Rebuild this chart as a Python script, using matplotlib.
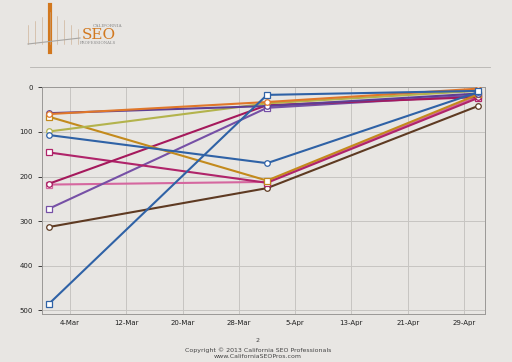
import datetime
import numpy as np
import matplotlib
matplotlib.use("Agg")
import matplotlib.pyplot as plt
import matplotlib.dates as mdates

# ranking snapshots
dates = [datetime.date(2013, 3, 1), datetime.date(2013, 4, 1), datetime.date(2013, 5, 1)]

blue_sq = [485, 17, 8]
blue_ci = [107, 170, 11]
gold = [66, 209, 16]
orange = [60, 33, 3]
dark_purple = [58, 42, 14]
olive = [99, 36, 8]
magenta_sq = [146, 214, 24]
crimson_ci = [216, 40, 22]
pink = [218, 212, 20]
lavender_sq = [272, 46, 18]
brown = [313, 226, 42]

tick_dates = [datetime.date(2013, 3, 4) + datetime.timedelta(days=8 * i) for i in range(8)]
y_ticks = [0, 100, 200, 300, 400, 500]

bg = '#e8e6e3'
fig = plt.figure(figsize=(5.12, 3.62), dpi=100, facecolor=bg)
ax = fig.add_axes([42 / 512, 1 - 314 / 362, (485 - 42) / 512, (314 - 87.3) / 362])
ax.set_facecolor(bg)

series = [
    (pink, '#d5679f', 's'),
    (brown, '#5e3a22', 'o'),
    (lavender_sq, '#7650a6', 's'),
    (magenta_sq, '#b0246a', 's'),
    (crimson_ci, '#a5195c', 'o'),
    (gold, '#c38a1c', 's'),
    (olive, '#b3b34c', 'o'),
    (dark_purple, '#5d3f94', 'o'),
    (orange, '#e0772a', 'o'),
    (blue_ci, '#2f62a6', 'o'),
    (blue_sq, '#2f62a6', 's'),
]
for vals, col, mk in series:
    ax.plot(dates, vals, color=col, lw=1.5, marker=mk, ms=4,
            mfc='white', mec=col, mew=0.9, zorder=3)

ax.set_ylim(508, 0)
pad = datetime.timedelta(hours=27)
ax.set_xlim(dates[0] - pad, dates[-1] + pad)
ax.set_yticks(y_ticks)
ax.set_xticks(tick_dates)
ax.xaxis.set_major_formatter(mdates.DateFormatter('%-d-%b'))
ax.tick_params(labelsize=5, colors='#222222', length=3, width=0.6)
ax.tick_params(axis='x', length=0, pad=4)
ax.grid(True, color='#c6c4c1', lw=0.7)
for s in ax.spines.values():
    s.set_color('#9a9896')
    s.set_linewidth(0.7)

# header rule and logo
fig.add_artist(plt.Line2D([30 / 512, 490 / 512], [1 - 67 / 362] * 2, color='#b5b3b0', lw=0.6))
fig.add_artist(plt.Line2D([50 / 512, 50 / 512], [1 - 52 / 362, 1 - 5 / 362], color='#d2781e', lw=3))
cable_x = np.linspace(28, 80, 30)
for hx in cable_x[::4]:
    fig.add_artist(plt.Line2D([hx / 512, hx / 512], [1 - 44 / 362, 1 - (12 + abs(hx - 50) * 0.6) / 362],
                              color='#c8a888', lw=0.4))
fig.add_artist(plt.Line2D([28 / 512, 80 / 512], [1 - 44 / 362, 1 - 38 / 362], color='#a8a6a3', lw=0.8))
fig.text(93 / 512, 1 - 26 / 362, 'CALIFORNIA', fontsize=3.2, color='#888888', ha='left', va='center',
         family='DejaVu Serif')
fig.text(82 / 512, 1 - 35 / 362, 'SEO', fontsize=11, color='#d2781e', ha='left', va='center',
         family='DejaVu Serif')
fig.text(80 / 512, 1 - 43 / 362, 'PROFESSIONALS', fontsize=2.8, color='#888888', ha='left', va='center',
         family='DejaVu Serif')

# footer
fig.text(258 / 512, 1 - 341 / 362, '2', fontsize=4.5, color='#444444', ha='center', va='center')
fig.text(258 / 512, 1 - 350 / 362, 'Copyright \u00a9 2013 California SEO Professionals', fontsize=4.5,
         color='#444444', ha='center', va='center')
fig.text(258 / 512, 1 - 357 / 362, 'www.CaliforniaSEOPros.com', fontsize=4.5, color='#444444',
         ha='center', va='center')

fig.savefig('out.png', dpi=100, facecolor=bg)
